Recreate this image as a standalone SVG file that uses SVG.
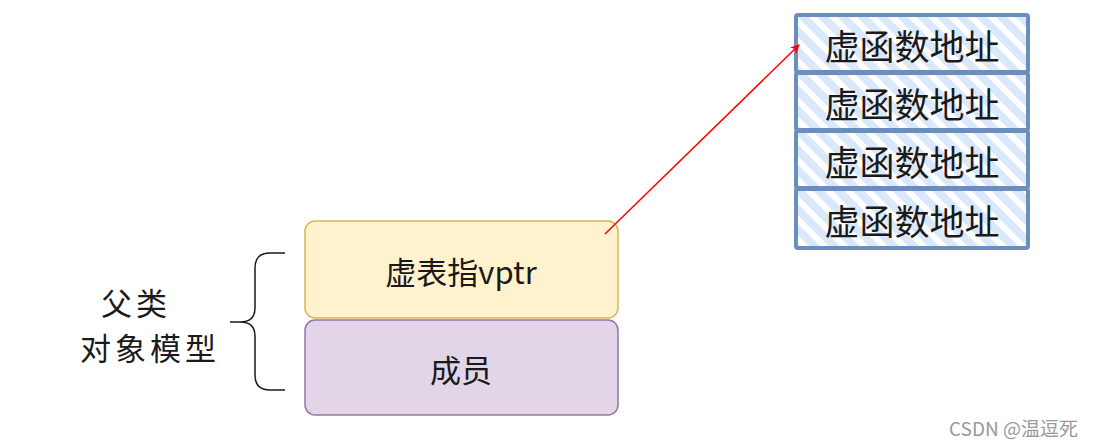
<svg xmlns="http://www.w3.org/2000/svg" width="1094" height="444" viewBox="0 0 1094 444">
<defs>
<pattern id="hatch" patternUnits="userSpaceOnUse" width="14" height="14" patternTransform="rotate(45)">
<rect width="14" height="14" fill="#ffffff"/>
<rect width="14" height="8" fill="#dae8fc"/>
</pattern>
<marker id="arr" viewBox="0 0 10 10" refX="9" refY="5" markerWidth="6" markerHeight="6" orient="auto" markerUnits="strokeWidth">
<path d="M0,0 L10,5 L0,10 L2.5,5 z" fill="#ff0000"/>
</marker>
<style>
.t{font-family:"Noto Sans CJK SC","Noto Sans",sans-serif;fill:#1a1a1a;text-anchor:middle;dominant-baseline:central}
.vf rect{fill:url(#hatch);stroke:#6c8ebf;stroke-width:4}
.vf text{font-size:35px}
</style>
</defs>
<rect width="1094" height="444" fill="#ffffff"/>
<g id="vptr">
<rect x="305" y="221" width="313" height="97" rx="10" fill="#fff2cc" stroke="#d6b656" stroke-width="1.5"/>
<text class="t" x="461" y="270" font-size="31">虚表指vptr</text>
</g>
<g id="members">
<rect x="305" y="320" width="313" height="95" rx="10" fill="#e1d5e7" stroke="#9673a6" stroke-width="1.5"/>
<text class="t" x="461" y="368" font-size="31">成员</text>
</g>
<g id="vtable" class="vf">
<g id="vf1"><rect x="796" y="15" width="232" height="57" rx="2"/><text class="t" x="912" y="44">虚函数地址</text></g>
<g id="vf2"><rect x="796" y="73" width="232" height="57" rx="2"/><text class="t" x="912" y="102">虚函数地址</text></g>
<g id="vf3"><rect x="796" y="131" width="232" height="57" rx="2"/><text class="t" x="912" y="160">虚函数地址</text></g>
<g id="vf4"><rect x="796" y="189" width="232" height="59" rx="2"/><text class="t" x="912" y="219">虚函数地址</text></g>
</g>
<g id="label">
<path d="M285,253 L270,253 Q255,253 255,268 L255,308 Q255,322 240,322 L230,322 M240,322 Q255,322 255,336 L255,375 Q255,390 270,390 L285,390" fill="none" stroke="#1a1a1a" stroke-width="1.5"/>
<text class="t" x="136" y="301" font-size="31" letter-spacing="4">父类</text>
<text class="t" x="150" y="346.5" font-size="31" letter-spacing="4">对象模型</text>
</g>
<g id="connectors">
<line x1="605" y1="234" x2="799" y2="45" stroke="#ff0000" stroke-width="1.5" marker-end="url(#arr)"/>
</g>
<text x="1078" y="427" font-family="'Noto Sans CJK SC','Noto Sans',sans-serif" font-size="19" fill="#999999" text-anchor="end" dominant-baseline="central">CSDN @温逗死</text>
</svg>
